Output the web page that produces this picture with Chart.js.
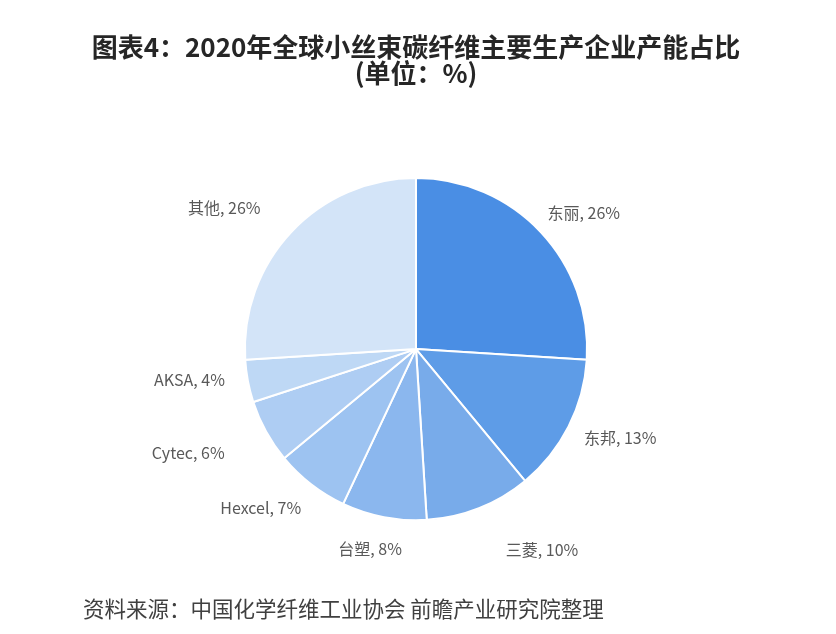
<!DOCTYPE html>
<html>
<head>
<meta charset="utf-8">
<script src="https://cdn.jsdelivr.net/npm/chart.js@4.4.1/dist/chart.umd.min.js"></script>
<style>
    html, body { margin: 0; padding: 0; background: #fff; }
    #wrap { width: 836px; height: 634px; }
</style>
</head>
<body>
<div id="wrap"><canvas id="capacityChart" width="836" height="634"></canvas></div>
<script>
// Data
const companies = ['东丽', '东邦', '三菱', '台塑', 'Hexcel', 'Cytec', 'AKSA', '其他'];
const shares = [26, 13, 10, 8, 7, 6, 4, 26];
const sliceColors = ['#4A8EE4', '#5E9CE7', '#78ABEA', '#8BB7EE', '#9DC3F1', '#AECDF3', '#BED8F5', '#D3E4F8'];

const titleLines = ['图表4：2020年全球小丝束碳纤维主要生产企业产能占比', '(单位：%)'];
const sourceText = '资料来源：中国化学纤维工业协会 前瞻产业研究院整理';

// small nudges so labels sit where the original put them
const labelNudge = [[11, 11], [9, -11], [51, 11], [-9, 6], [-24, -10], [-36, -2], [-11, -10], [-35, 6]];

// Outside-end labels, placed from each arc's own angles
const outsideLabels = {
    id: 'outsideLabels',
    afterDatasetsDraw(chart) {
        const ctx = chart.ctx;
        const meta = chart.getDatasetMeta(0);
        ctx.save();
        ctx.font = '16px "Noto Sans CJK SC", "Noto Sans", sans-serif';
        ctx.fillStyle = '#595959';
        ctx.textAlign = 'center';
        ctx.textBaseline = 'middle';
        meta.data.forEach((arc, i) => {
            const text = companies[i] + ', ' + shares[i] + '%';
            const mid = (arc.startAngle + arc.endAngle) / 2;
            const ux = Math.cos(mid);
            const uy = Math.sin(mid);
            const hw = ctx.measureText(text).width / 2;
            const hh = 8;
            const dist = arc.outerRadius + 12 + Math.abs(ux) * hw + Math.abs(uy) * hh;
            const nudge = labelNudge[i] || [0, 0];
            ctx.fillText(text, arc.x + ux * dist + nudge[0], arc.y + uy * dist + nudge[1]);
        });
        ctx.restore();
    }
};

const ctx = document.getElementById('capacityChart').getContext('2d');
const chart = new Chart(ctx, {
    type: 'pie',
    data: {
        labels: companies,
        datasets: [{
            data: shares,
            backgroundColor: sliceColors,
            borderColor: '#ffffff',
            borderWidth: 2
        }]
    },
    options: {
        responsive: false,
        animation: false,
        layout: {
            padding: { top: 0, bottom: 0, left: 83, right: 87 }
        },
        plugins: {
            legend: { display: false },
            tooltip: { enabled: false },
            title: {
                display: true,
                text: titleLines,
                color: '#262626',
                font: { family: '"Noto Sans CJK SC", sans-serif', size: 26, weight: 'bold', lineHeight: 1.0 },
                padding: { top: 34, bottom: 91 }
            },
            subtitle: {
                display: true,
                position: 'bottom',
                align: 'start',
                text: sourceText,
                color: '#404040',
                font: { family: '"Noto Sans CJK SC", sans-serif', size: 21.5, lineHeight: 1.2 },
                padding: { top: 75, bottom: 12 }
            }
        }
    },
    plugins: [outsideLabels]
});
</script>
</body>
</html>
